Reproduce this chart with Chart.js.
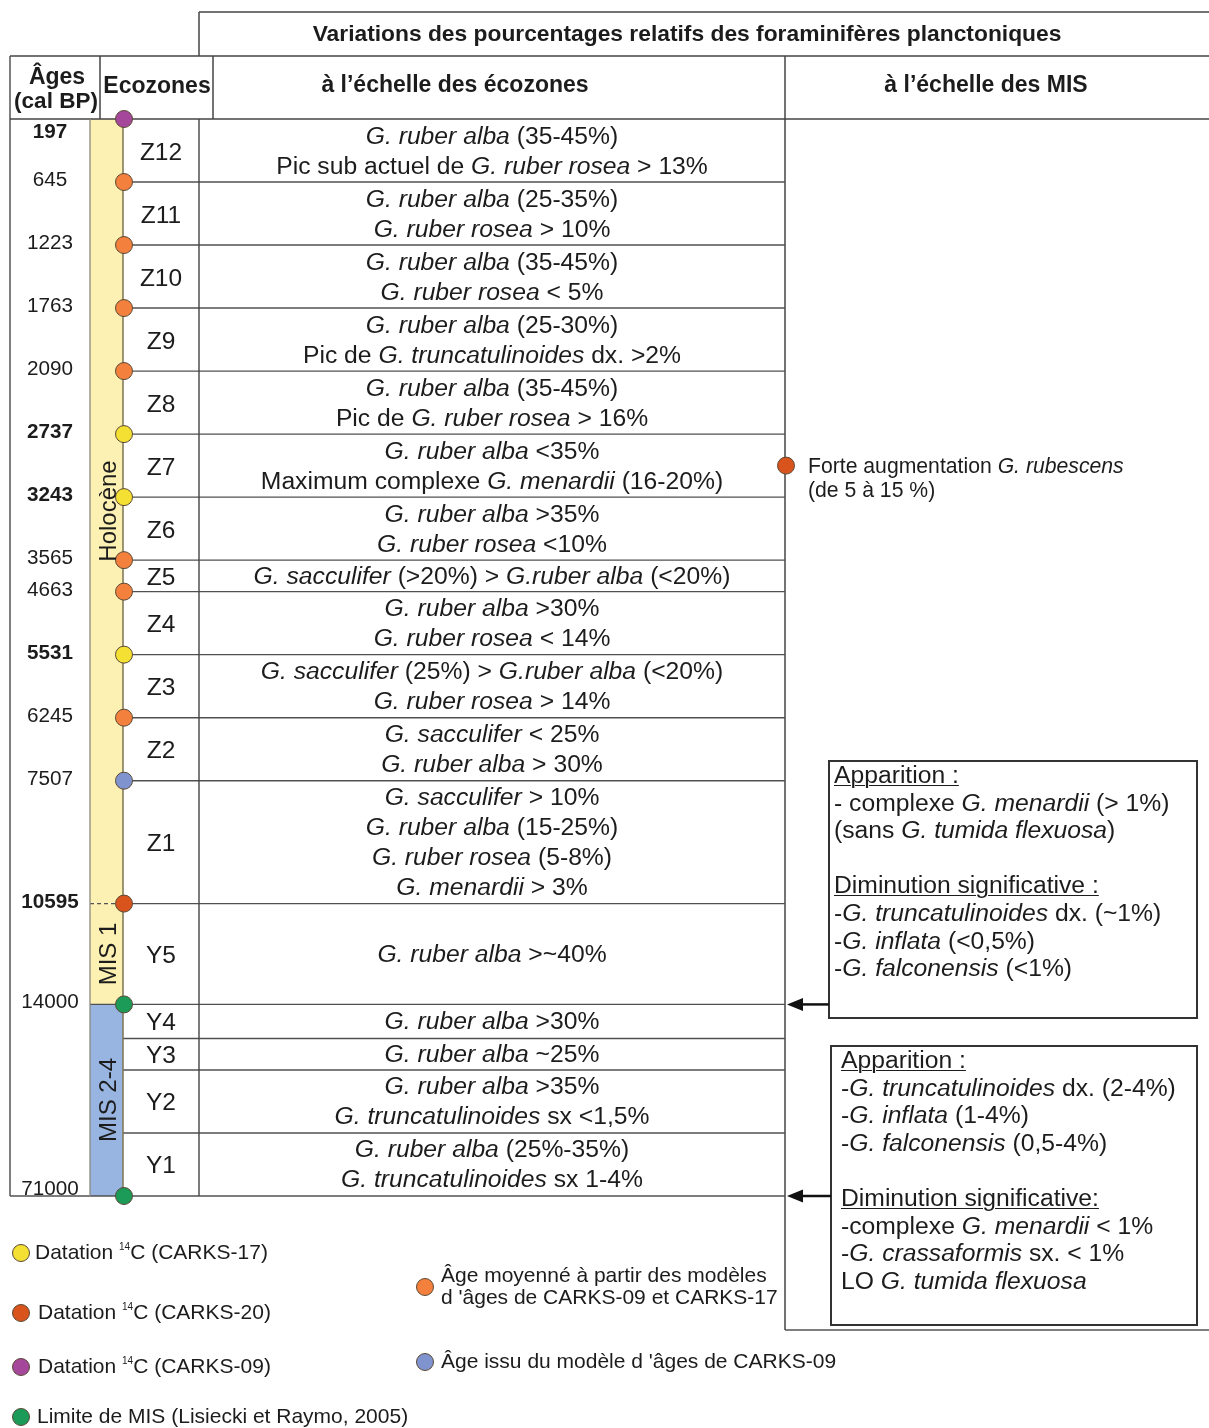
<!DOCTYPE html>
<html>
<head>
<meta charset="utf-8">
<script src="https://cdn.jsdelivr.net/npm/chart.js@4/dist/chart.umd.min.js"></script>
<style>
  html, body { margin: 0; padding: 0; background: #fff; }
  #wrap { position: relative; width: 1209px; height: 1428px; overflow: hidden;
          font-family: "Liberation Sans", Arial, Helvetica, sans-serif; color: #1c1c1c; }
  #c { position: absolute; left: 0; top: 0; }
  .t { position: absolute; white-space: nowrap; line-height: 1; }
  .c { transform: translate(-50%, -50%); text-align: center; }
  .l { transform: translate(0, -50%); }
  .row { position: absolute; display: flex; flex-direction: column; justify-content: center;
         align-items: center; line-height: 30px; font-size: 24.7px; white-space: nowrap; }
  .box { position: absolute; font-size: 24.7px; line-height: 27.6px; white-space: nowrap; }
  .u { text-decoration: underline; text-underline-offset: 2px; text-decoration-thickness: 1px; }
  .dot { position: absolute; width: 16px; height: 16px; border-radius: 50%;
         border: 1px solid #5b4a36; transform: translate(-50%, -50%); }
  sup.s { font-size: 10px; vertical-align: 9px; line-height: 0; }
</style>
</head>
<body>
<div id="wrap">
  <canvas id="c" width="1209" height="1428"></canvas>
</div>
<script>
// ---------------- DATA ----------------
const zones = ['Z12','Z11','Z10','Z9','Z8','Z7','Z6','Z5','Z4','Z3','Z2','Z1','Y5','Y4','Y3','Y2','Y1'];
// row height of each ecozone, in text-line units
const zoneSpans = [2, 2, 2, 2, 2, 2, 2, 1, 2, 2, 2, 3.9, 3.2, 1.08, 1, 2, 2];
const zoneTexts = [
  ['*G. ruber alba* (35-45%)', 'Pic sub actuel de *G. ruber rosea* > 13%'],
  ['*G. ruber alba* (25-35%)', '*G. ruber rosea* > 10%'],
  ['*G. ruber alba* (35-45%)', '*G. ruber rosea* < 5%'],
  ['*G. ruber alba* (25-30%)', 'Pic de *G. truncatulinoides* dx. >2%'],
  ['*G. ruber alba* (35-45%)', 'Pic de *G. ruber rosea* > 16%'],
  ['*G. ruber alba* <35%', 'Maximum complexe *G. menardii* (16-20%)'],
  ['*G. ruber alba* >35%', '*G. ruber rosea* <10%'],
  ['*G. sacculifer* (>20%) > *G.ruber alba* (<20%)'],
  ['*G. ruber alba* >30%', '*G. ruber rosea* < 14%'],
  ['*G. sacculifer* (25%) > *G.ruber alba* (<20%)', '*G. ruber rosea* > 14%'],
  ['*G. sacculifer* < 25%', '*G. ruber alba* > 30%'],
  ['*G. sacculifer* > 10%', '*G. ruber alba* (15-25%)', '*G. ruber rosea* (5-8%)', '*G. menardii* > 3%'],
  ['*G. ruber alba* >~40%'],
  ['*G. ruber alba* >30%'],
  ['*G. ruber alba* ~25%'],
  ['*G. ruber alba* >35%', '*G. truncatulinoides* sx <1,5%'],
  ['*G. ruber alba* (25%-35%)', '*G. truncatulinoides* sx 1-4%']
];
// ages at the zone boundaries (top of Z12 ... base of Y1)
const ages = [197, 645, 1223, 1763, 2090, 2737, 3243, 3565, 4663, 5531, 6245, 7507, 10595, 14000, null, null, null, 71000];
// origin of each boundary age
const dotTypes = ['c09', 'avg', 'avg', 'avg', 'avg', 'c17', 'c17', 'avg', 'avg', 'c17', 'avg', 'm09', 'c20', 'mis', null, null, null, 'mis'];
const dotColors = { c17: '#f4df33', c20: '#d9531d', c09: '#a5479b', mis: '#1c9a58', avg: '#f3813d', m09: '#7f94cf' };
const datingTypes = ['c17', 'c20', 'c09'];

const periods = ['Holocène', 'MIS 1', 'MIS 2-4'];
const periodFrom = ['Z12', 'Y5', 'Y4'];
const periodTo = ['Z1', 'Y5', 'Y1'];
const periodColors = ['#fcf0b2', '#fcf0b2', '#98b5e2'];

// MIS scale observations
const misEventZone = ['Z7'];
const misEventText = [['Forte augmentation *G. rubescens*', '(de 5 à 15 %)']];
const misBoxAt = [13, 17]; // boundary index the box arrow points to (14000, 71000)
const misBoxTexts = [
  ['_Apparition :_', '- complexe *G. menardii* (> 1%)', '(sans *G. tumida flexuosa*)', '',
   '_Diminution significative :_', '-*G. truncatulinoides* dx. (~1%)', '-*G. inflata* (<0,5%)', '-*G. falconensis* (<1%)'],
  ['_Apparition :_', '-*G. truncatulinoides* dx. (2-4%)', '-*G. inflata* (1-4%)', '-*G. falconensis* (0,5-4%)', '',
   '_Diminution significative:_', '-complexe *G. menardii* < 1%', '-*G. crassaformis* sx. < 1%', 'LO *G. tumida flexuosa*']
];

const legendItems = [
  { type: 'c17', text: 'Datation <sup class="s">14</sup>C (CARKS-17)' },
  { type: 'c20', text: 'Datation <sup class="s">14</sup>C (CARKS-20)' },
  { type: 'c09', text: 'Datation <sup class="s">14</sup>C (CARKS-09)' },
  { type: 'mis', text: 'Limite de MIS (Lisiecki et Raymo, 2005)' },
  { type: 'avg', text: 'Âge moyenné à partir des modèles<br>d \'âges de CARKS-09 et CARKS-17' },
  { type: 'm09', text: 'Âge issu du modèle d \'âges de CARKS-09' }
];

// ---------------- LAYOUT ----------------
const L = { left: 10, barL: 90, barR: 123, zoneR: 199, textR: 785, right: 1209,
            dotX: 124, misDotX: 786, top: 119, bottom: 1196 };
const bounds = [0];
zoneSpans.forEach(s => bounds.push(bounds[bounds.length - 1] + s));
const total = bounds[bounds.length - 1];

function fmt(s) {
  let h = s.replace(/&/g, '&amp;').replace(/</g, '&lt;').replace(/>/g, '&gt;');
  h = h.replace(/\*([^*]+)\*/g, '<i>$1</i>');
  h = h.replace(/_([^_]+)_/g, '<span class="u">$1</span>');
  return h;
}

const tablePlugin = {
  id: 'table',
  beforeDatasetsDraw(chart) {
    const ctx = chart.ctx;
    const Y = v => chart.scales.y.getPixelForValue(v);
    const X = v => chart.scales.x.getPixelForValue(v);
    ctx.save();
    // stratigraphic bands
    periods.forEach((p, i) => {
      const y0 = Y(bounds[zones.indexOf(periodFrom[i])]);
      const y1 = Y(bounds[zones.indexOf(periodTo[i]) + 1]);
      ctx.fillStyle = periodColors[i];
      ctx.fillRect(X(L.barL), y0, X(L.barR) - X(L.barL), y1 - y0);
    });
    const line = (x0, y0, x1, y1, col, w, dash) => {
      ctx.beginPath();
      ctx.strokeStyle = col || '#4f4f4f';
      ctx.lineWidth = w || 1.5;
      ctx.setLineDash(dash || []);
      ctx.moveTo(x0, y0); ctx.lineTo(x1, y1); ctx.stroke();
    };
    // header lines
    line(199, 12, L.right, 12, '#444');
    line(199, 12, 199, 56, '#444');
    line(L.left, 56, L.right, 56, '#444');
    line(100, 56, 100, Y(0), '#444');
    line(213, 56, 213, Y(0), '#444');
    line(L.left, 56, L.left, Y(total), '#555');
    line(X(L.textR), 56, X(L.textR), 1330, '#444');
    line(X(L.textR), 1330, L.right, 1330, '#555');
    line(L.left, Y(0), L.right, Y(0), '#444');
    // row lines
    for (let i = 1; i < bounds.length - 1; i++) {
      line(X(L.barR), Y(bounds[i]), X(L.textR), Y(bounds[i]), '#505050', 1.4);
    }
    line(L.left, Y(total), X(L.textR), Y(total), '#505050', 1.5);
    line(X(L.zoneR), Y(0), X(L.zoneR), Y(total), '#444', 1.4);
    // period boundaries inside the bar
    for (let i = 1; i < periods.length; i++) {
      const yb = Y(bounds[zones.indexOf(periodFrom[i])]);
      if (periodColors[i] === periodColors[i - 1]) {
        line(X(L.barL), yb, X(L.barR) - 6, yb, '#555', 1.2, [4, 3]);
      } else {
        line(X(L.barL), yb, X(L.barR), yb, '#505050', 1.4);
      }
    }
    // bar outline
    line(X(L.barL), Y(0), X(L.barL), Y(total), '#8a8a80', 1.3);
    line(X(L.barR), Y(0), X(L.barR), Y(total), '#7d7352', 1.5);
    // MIS boxes and arrows
    const boxes = [[829, 761, 1197, 1018], [831, 1046, 1197, 1325]];
    boxes.forEach((b, i) => {
      ctx.setLineDash([]);
      ctx.strokeStyle = '#333'; ctx.lineWidth = 2;
      ctx.strokeRect(b[0], b[1], b[2] - b[0], b[3] - b[1]);
      const ya = Y(bounds[misBoxAt[i]]);
      line(b[0], ya, 800, ya, '#111', 2.5);
      ctx.beginPath(); ctx.fillStyle = '#111';
      ctx.moveTo(787, ya); ctx.lineTo(803, ya - 6.5); ctx.lineTo(803, ya + 6.5); ctx.closePath(); ctx.fill();
    });
    ctx.restore();
  }
};

// dataset points from the data arrays
const dotPts = [], dotCols = [];
dotTypes.forEach((t, i) => { if (t) { dotPts.push({ x: L.dotX, y: bounds[i] }); dotCols.push(dotColors[t]); } });
const misPts = misEventZone.map(z => { const k = zones.indexOf(z); return { x: L.misDotX, y: (bounds[k] + bounds[k + 1]) / 2 }; });

const chart = new Chart(document.getElementById('c'), {
  type: 'scatter',
  data: {
    datasets: [
      { label: 'Âges', data: dotPts, pointRadius: 8.5, pointHoverRadius: 8.5,
        pointBackgroundColor: dotCols, pointBorderColor: '#5b4a36', pointBorderWidth: 1, clip: false },
      { label: 'MIS', data: misPts, pointRadius: 8.5, pointHoverRadius: 8.5,
        pointBackgroundColor: dotColors.c20, pointBorderColor: '#5b4a36', pointBorderWidth: 1, clip: false }
    ]
  },
  options: {
    responsive: false, maintainAspectRatio: false, animation: false, events: [],
    layout: { autoPadding: false, padding: { top: L.top, bottom: 1428 - L.bottom, left: 0, right: 0 } },
    scales: {
      x: { type: 'linear', min: 0, max: 1209, display: false },
      y: { type: 'linear', min: 0, max: total, reverse: true, display: false }
    },
    plugins: { legend: { display: false }, tooltip: { enabled: false } }
  },
  plugins: [tablePlugin]
});

// ---------------- TEXT OVERLAY ----------------
const wrap = document.getElementById('wrap');
function add(cls, html, css) {
  const d = document.createElement('div');
  d.className = cls; d.innerHTML = html;
  Object.assign(d.style, css);
  wrap.appendChild(d);
  return d;
}
const ys = chart.scales.y, xs = chart.scales.x;
const PY = v => ys.getPixelForValue(v);
const PX = v => xs.getPixelForValue(v);

// headers
add('t c', 'Variations des pourcentages relatifs des foraminifères planctoniques',
    { left: '687px', top: '33px', fontSize: '22.8px', fontWeight: 'bold' });
add('t c', 'Âges', { left: '57px', top: '76px', fontSize: '23px', fontWeight: 'bold' });
add('t c', '(cal BP)', { left: '56px', top: '101px', fontSize: '22.5px', fontWeight: 'bold' });
add('t c', 'Ecozones', { left: '157px', top: '85px', fontSize: '23px', fontWeight: 'bold' });
add('t c', 'à l’échelle des écozones', { left: '455px', top: '84px', fontSize: '23px', fontWeight: 'bold' });
add('t c', 'à l’échelle des MIS', { left: '986px', top: '84px', fontSize: '23px', fontWeight: 'bold' });

// ages
ages.forEach((a, i) => {
  if (a === null) return;
  let y = PY(bounds[i]) - 3;
  if (i === 0) y = PY(bounds[i]) + 12;
  if (i === ages.length - 1) y = PY(bounds[i]) - 8;
  add('t c', String(a), { left: '50px', top: y + 'px', fontSize: '20.7px',
      fontWeight: datingTypes.includes(dotTypes[i]) ? 'bold' : 'normal' });
});

// zones and zone descriptions
zones.forEach((z, i) => {
  const y0 = PY(bounds[i]), y1 = PY(bounds[i + 1]);
  add('t c', z, { left: ((PX(L.barR) + PX(L.zoneR)) / 2) + 'px', top: ((y0 + y1) / 2 + 1) + 'px', fontSize: '24.5px' });
  add('row', zoneTexts[i].map(s => '<div>' + fmt(s) + '</div>').join(''),
      { left: PX(L.zoneR) + 'px', width: (PX(L.textR) - PX(L.zoneR)) + 'px', top: y0 + 'px', height: (y1 - y0) + 'px' });
});

// period labels (rotated)
periods.forEach((p, i) => {
  const y0 = PY(bounds[zones.indexOf(periodFrom[i])]);
  const y1 = PY(bounds[zones.indexOf(periodTo[i]) + 1]);
  add('t', p, { left: ((PX(L.barL) + PX(L.barR)) / 2 + 1) + 'px', top: ((y0 + y1) / 2) + 'px', fontSize: '24px',
      transform: 'translate(-50%, -50%) rotate(-90deg)' });
});

// MIS events
misEventText.forEach((lines, i) => {
  const y = ys.getPixelForValue(misPts[i].y);
  lines.forEach((s, j) => add('t l', fmt(s), { left: '808px', top: (y + j * 24) + 'px', fontSize: '21.2px' }));
});
const boxPos = [[834, 761], [841, 1046]];
misBoxTexts.forEach((lines, i) => {
  add('box', lines.map(s => '<div style="height:27.6px">' + fmt(s) + '</div>').join(''),
      { left: boxPos[i][0] + 'px', top: boxPos[i][1] + 'px' });
});

// legend
const legPos = [[21, 1253, 35], [21, 1313, 38], [21, 1367, 38], [21, 1417, 37], [425, 1287, 441], [425, 1362, 441]];
legendItems.forEach((it, i) => {
  const p = legPos[i];
  add('dot', '', { left: p[0] + 'px', top: p[1] + 'px', background: dotColors[it.type] });
  add('t l', it.text, { left: p[2] + 'px', top: (p[1] - 1) + 'px', fontSize: '21px', lineHeight: '22px' });
});
</script>
</body>
</html>
